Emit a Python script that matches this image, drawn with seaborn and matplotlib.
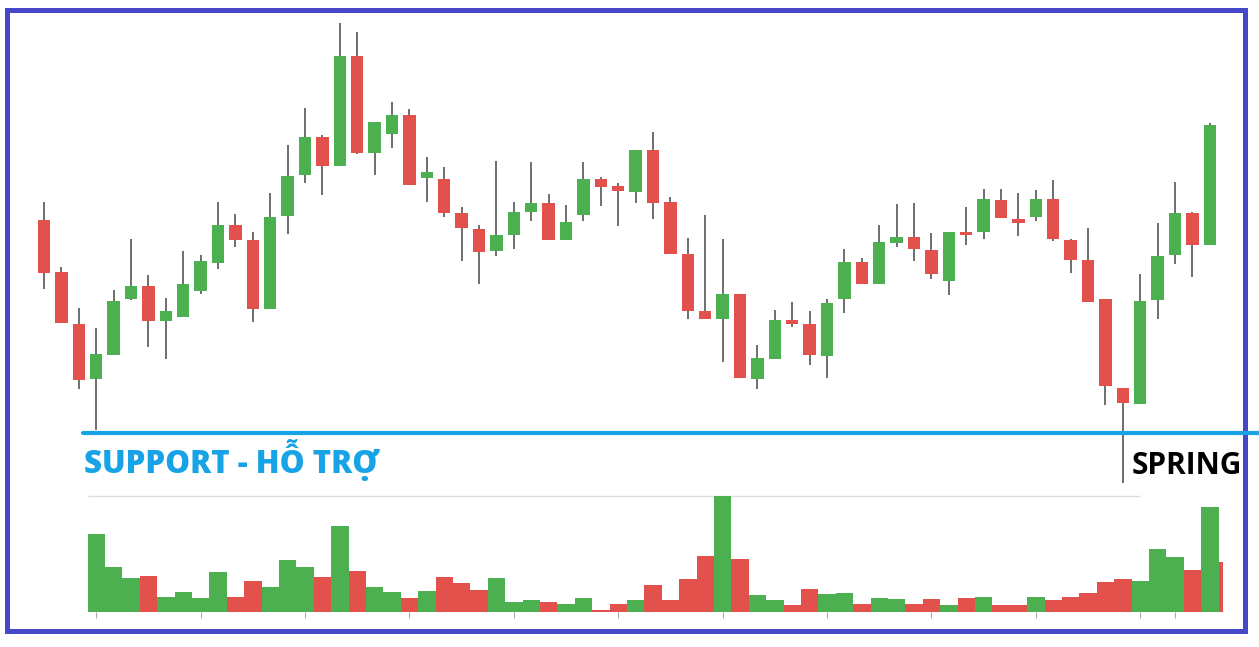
import matplotlib
matplotlib.use("Agg")
import matplotlib.pyplot as plt
import matplotlib.patches as patches
import seaborn as sns
import pandas as pd

# OHLC (arbitrary price units)
opens = [42.0, 36.8, 31.6, 26.1, 28.5, 34.1, 35.4, 31.9, 32.3, 34.9,
         37.7, 41.5, 40.0, 33.1, 42.4, 46.5, 50.3, 47.4, 58.4, 48.7,
         50.6, 52.5, 46.2, 46.1, 42.7, 41.1, 38.9, 40.5, 42.8, 43.7,
         40.0, 42.5, 46.1, 45.4, 44.8, 49.0, 43.8, 38.6, 32.9, 32.1,
         34.6, 26.1, 28.1, 32.0, 31.6, 28.4, 34.1, 37.8, 35.6, 39.7,
         40.3, 39.0, 35.9, 40.8, 40.8, 44.0, 42.1, 42.3, 44.1, 40.0,
         38.0, 34.1, 25.2, 23.6, 34.0, 38.5, 42.7, 39.5]
highs = [43.8, 37.3, 33.2, 31.2, 35.0, 40.1, 36.5, 34.2, 38.9, 38.5,
         43.8, 42.6, 40.8, 44.7, 49.5, 53.2, 50.5, 61.7, 60.8, 51.8,
         53.8, 53.1, 48.3, 47.3, 43.3, 41.5, 47.9, 43.8, 47.8, 44.6,
         43.5, 47.8, 46.3, 45.7, 49.0, 50.8, 44.3, 40.2, 42.5, 40.1,
         34.6, 29.5, 33.0, 33.8, 32.9, 34.1, 39.1, 38.2, 41.5, 43.6,
         43.7, 40.7, 40.8, 43.3, 45.1, 45.1, 44.7, 45.0, 46.0, 40.1,
         41.2, 34.1, 25.2, 36.6, 41.7, 45.8, 42.8, 51.7]
lows = [35.1, 31.7, 25.1, 21.0, 28.5, 34.0, 29.3, 28.1, 32.3, 34.6,
        37.1, 39.3, 31.8, 33.1, 40.6, 45.7, 44.5, 47.4, 48.6, 46.5,
        49.2, 45.5, 43.8, 42.3, 37.9, 35.6, 38.4, 39.1, 41.9, 40.0,
        40.0, 41.9, 43.4, 41.4, 43.7, 42.1, 38.6, 32.1, 32.1, 27.8,
        26.2, 25.1, 28.1, 31.3, 27.5, 26.2, 32.7, 35.6, 35.6, 39.3,
        37.9, 36.1, 34.5, 39.5, 40.1, 42.2, 40.4, 41.9, 39.9, 36.7,
        33.8, 23.5, 15.7, 23.6, 32.1, 37.6, 36.3, 39.5]
closes = [36.7, 31.7, 26.0, 28.6, 33.9, 35.4, 31.9, 32.9, 35.6, 37.9,
          41.5, 40.0, 33.1, 42.3, 46.4, 50.3, 47.4, 58.4, 48.7, 51.8,
          52.5, 45.5, 46.8, 42.7, 41.2, 38.8, 40.5, 42.8, 43.7, 40.0,
          41.8, 46.1, 45.3, 44.9, 49.0, 43.7, 38.6, 32.9, 32.1, 34.6,
          26.2, 28.2, 32.0, 31.6, 28.5, 33.7, 37.8, 35.6, 39.8, 40.3,
          39.1, 36.6, 40.8, 40.5, 44.1, 42.2, 41.7, 44.1, 40.1, 38.0,
          33.8, 25.4, 23.7, 33.9, 38.4, 42.7, 39.5, 51.5]

# volume starts at candle 3, last bar is cut off by the frame
vol_start = 3
volumes = [780, 457, 340, 367, 153, 207, 140, 400, 153, 310,
           253, 520, 457, 357, 867, 410, 253, 200, 140, 210,
           357, 297, 220, 340, 107, 120, 107, 83, 140, 20,
           87, 120, 277, 120, 330, 567, 1163, 533, 177, 120,
           77, 230, 187, 197, 87, 140, 130, 87, 130, 77,
           143, 153, 77, 77, 153, 120, 153, 190, 300, 333,
           310, 633, 557, 420, 1057, 500]
vol_top = 1163

support = 20.7
spring_idx = 62

GREEN = '#4caf50'
RED = '#e2514c'
WICK = '#555555'
CYAN = '#17a3e6'
FRAME = '#4747c9'

sns.set_style('white')
plt.rcParams['font.family'] = ['Open Sans', 'DejaVu Sans']

n = len(opens)
df = pd.DataFrame({'i': range(n), 'open': opens, 'high': highs,
                   'low': lows, 'close': closes})
df['up'] = df['close'] >= df['open']

vol_dir = ['up' if c >= o else 'down'
           for o, c in zip(opens[vol_start:], closes[vol_start:])]
vol_dir += ['down'] * (len(volumes) - len(vol_dir))
vdf = pd.DataFrame({'i': range(vol_start, vol_start + len(volumes)),
                    'vol': volumes, 'dir': vol_dir})

fig = plt.figure(figsize=(12.59, 6.47), dpi=100)
ax = fig.add_axes([0, 0, 1, 1])
ax.set_xlim(-2.529, 69.83)
ax.set_ylim(-0.7, 64)
ax.axis('off')

# candles
ax.vlines(df['i'], df['low'], df['high'], color=WICK, lw=1.2, zorder=2)
body_bottom = df[['open', 'close']].min(axis=1)
body_h = (df['close'] - df['open']).abs()
ax.bar(df['i'], body_h, bottom=body_bottom, width=0.71,
       color=[GREEN if u else RED for u in df['up']], linewidth=0, zorder=3)

# support line and labels
ax.plot([2.24, 69.83], [support, support], color=CYAN, lw=3.0,
        solid_capstyle='round', zorder=4)
ax.text(2.30, 16.67, 'SUPPORT - HỖ TRỢ', color=CYAN, fontsize=22.5,
        fontweight='heavy', ha='left', va='baseline')
ax.text(spring_idx + 0.5, 16.6, 'SPRING', color='black', fontsize=21.5,
        fontweight='bold', ha='left', va='baseline')

# frame
frame = patches.Rectangle((7 / 1259, (647 - 630.7) / 647),
                          (1245 - 7) / 1259, (630.7 - 9.5) / 647,
                          transform=fig.transFigure, fill=False,
                          edgecolor=FRAME, lw=3.6, zorder=1, clip_on=False)
ax.add_patch(frame)

# volume panel
axv = fig.add_axes([0, (647 - 612.3) / 647, 1222.7 / 1259, 116.3 / 647])
axv.patch.set_alpha(0)
sns.barplot(data=vdf, x='i', y='vol', hue='dir', native_scale=True,
            palette={'up': GREEN, 'down': RED}, width=1.0, saturation=1,
            errorbar=None, linewidth=0, legend=False, ax=axv)
axv.set_xlim(-2.529, 67.74)
axv.set_ylim(0, vol_top)
axv.hlines(vol_top, 2.5, 63.0, color='#dddddd', lw=1, clip_on=False, zorder=0)
for s in axv.spines.values():
    s.set_visible(False)
axv.set_xticks(list(range(3, 64, 6)) + [65])
axv.set_yticks([])
axv.tick_params(axis='x', length=4, width=0.8, color='#aaaaaa',
                labelbottom=False, bottom=True, direction='out', pad=0)
axv.set_xlabel('')
axv.set_ylabel('')

fig.savefig('out.png', dpi=100)
